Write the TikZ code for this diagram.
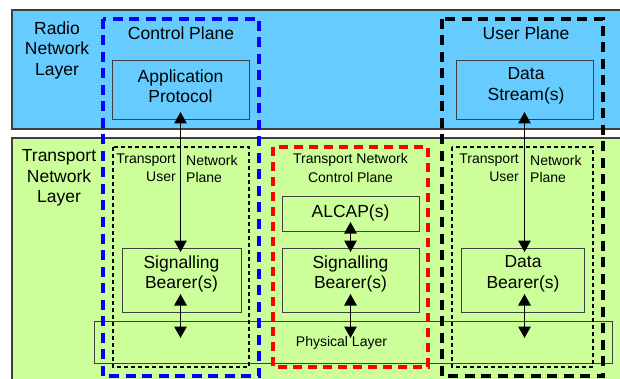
\documentclass[tikz,border=0pt]{standalone}
\usepackage{fontspec}
\setmainfont{Liberation Sans}
\usetikzlibrary{arrows.meta,calc}
\definecolor{rnlblue}{HTML}{66CCFF}
\definecolor{tnlgreen}{HTML}{CCFF99}
\definecolor{edgegray}{HTML}{404040}
\begin{document}
\begin{tikzpicture}[x=1pt,y=-1pt,
  big/.style={font=\fontsize{17.5}{20.5}\selectfont, align=center, inner sep=0pt},
  small/.style={font=\fontsize{14}{17}\selectfont, align=center, inner sep=0pt},
  layerbox/.style={draw=edgegray, line width=1.5pt, anchor=north west, inner sep=0pt, outer sep=0pt},
  box/.style={draw=edgegray, line width=1pt, inner sep=0pt, outer sep=0pt},
  bigframe/.style={line width=3.2pt, dash pattern=on 10pt off 6.5pt},
  redframe/.style={draw=red, line width=3.2pt, dash pattern=on 9pt off 6pt},
  dotframe/.style={draw=black, line width=1.1pt, dash pattern=on 4pt off 3pt},
  arr/.style={line width=1.3pt, {Triangle[width=12.5pt,length=11.5pt]}-{Triangle[width=12.5pt,length=11.5pt]}}
]
\useasboundingbox (0,0) rectangle (620,379);
\fill[white] (0,0) rectangle (620,379);
% layers
\node[layerbox, fill=rnlblue, minimum width=620pt, minimum height=119pt] (rnl) at (12,10) {};
\node[layerbox, fill=tnlgreen, minimum width=620pt, minimum height=260pt] (tnl) at (12,138) {};
\node[big] (rnlt) at (57,50) {Radio\\Network\\Layer};
\node[big] (tnlt) at (59,178) {Transport\\Network\\Layer};
% plane titles
\node[big] (cpt) at (181,33) {Control Plane};
\node[big] (upt) at (526,33) {User Plane};
% boxes
\node[box, fill=rnlblue, minimum width=137pt, minimum height=59pt] (ap) at (180.5,90.5) {};
\node[big] (apt) at (180.5,86) {Application\\Protocol};
\node[box, fill=rnlblue, minimum width=137pt, minimum height=59pt] (ds) at (524.5,90.5) {};
\node[big] (dst) at (526,86) {Data\\Stream(s)};
\node[box, fill=tnlgreen, minimum width=119pt, minimum height=64pt] (sb1) at (181.5,280) {};
\node[big] (sb1t) at (181.5,274) {Signalling\\Bearer(s)};
\node[box, fill=tnlgreen, minimum width=137pt, minimum height=34pt] (alc) at (350.5,214) {};
\node[big] (alct) at (350.5,213) {ALCAP(s)};
\node[box, fill=tnlgreen, minimum width=137pt, minimum height=64pt] (sb2) at (350.5,280) {};
\node[big] (sb2t) at (350.5,274) {Signalling\\Bearer(s)};
\node[box, fill=tnlgreen, minimum width=123pt, minimum height=64pt] (db) at (522.5,280) {};
\node[big] (dbt) at (523,274) {Data\\Bearer(s)};
\node[box, minimum width=518pt, minimum height=42pt] (phys) at (353,342) {};
\node[small] (physt) at (341.5,343) {Physical Layer};
% small labels
\node[small, anchor=east] (tl1) at (176,160) {Transport};
\node[small, anchor=west] (tl2) at (186,160) {Network};
\node[small, anchor=east] (tl3) at (176,177) {User};
\node[small, anchor=west] (tl4) at (186,177) {Plane};
\node[small] (tm1) at (350.5,160) {Transport Network};
\node[small] (tm2) at (350.5,177) {Control Plane};
\node[small, anchor=east] (tr1) at (519,160) {Transport};
\node[small, anchor=west] (tr2) at (530,160) {Network};
\node[small, anchor=east] (tr3) at (519,177) {User};
\node[small, anchor=west] (tr4) at (530,177) {Plane};
% arrows
\draw[arr] ([yshift=8pt]ap.south) -- ($(ap.south |- sb1.north)+(0,4)$);
\draw[arr] ($(ap.south |- sb1.south)+(0,-18)$) -- ($(ap.south |- phys.north)+(0,17)$);
\draw[arr] ([yshift=9pt]alc.south) -- ($(alc.south |- sb2.north)+(0,4)$);
\draw[arr] ([yshift=18pt]sb2.south) -- ($(sb2.south |- phys.north)+(0,17)$);
\draw[arr] ([yshift=8pt]ds.south) -- ($(ds.south |- db.north)+(0,4)$);
\draw[arr] ($(ds.south |- db.south)+(0,-18)$) -- ($(ds.south |- phys.north)+(0,17)$);
% dashed frames
\draw[dotframe] (113,147) rectangle (249,367);
\draw[dotframe] (452,147) rectangle (593,367);
\draw[redframe] (273,147) rectangle (428,367);
\draw[bigframe, draw=blue] (103,19) rectangle (259,376);
\draw[bigframe, draw=black] (442,19) rectangle (603,376);
\end{tikzpicture}
\end{document}
